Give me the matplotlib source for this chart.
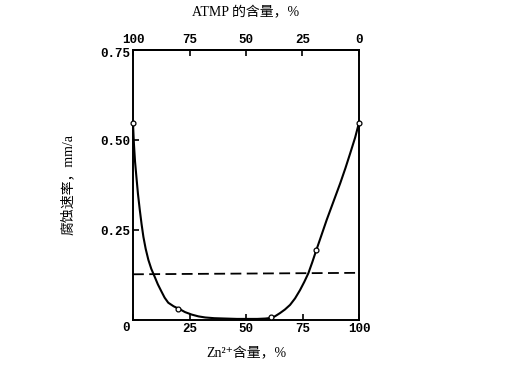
import matplotlib
matplotlib.use("Agg")
import matplotlib.pyplot as plt
import matplotlib.transforms as mtransforms

# Data
curve_x = [0, 0.4, 0.9, 1.5, 2.2, 3.0, 3.8, 4.6, 5.6, 6.8, 8.1, 9.6, 11.0, 12.6, 14.0, 15.6, 18.0, 20.7, 23.0, 26.0, 29.0, 32.0, 36.0, 41.0, 46.0, 50.5, 55.0, 58.5, 61.4,
           63.0, 65.0, 67.2, 69.5, 71.7, 73.9, 75.8, 77.6, 79.3, 81.0, 83.3, 85.7, 88.7, 91.7, 94.0, 96.1, 98.3, 100.0]
curve_y = [0.546, 0.49, 0.44, 0.398, 0.35, 0.306, 0.266, 0.231, 0.198, 0.167, 0.142, 0.12, 0.099, 0.079, 0.062, 0.048, 0.038, 0.030, 0.022, 0.015, 0.010, 0.007, 0.005, 0.004, 0.003, 0.003, 0.003, 0.004, 0.006,
           0.011, 0.019, 0.029, 0.042, 0.060, 0.083, 0.106, 0.130, 0.160, 0.192, 0.234, 0.278, 0.329, 0.38, 0.422, 0.463, 0.507, 0.548]
marker_x = [0, 20, 61, 81, 100]
marker_y = [0.546, 0.031, 0.008, 0.194, 0.548]
dash_x = [0, 100]
dash_y = [0.127, 0.131]

bottom_ticks = [0, 25, 50, 75, 100]
bottom_tick_labels = ["", "25", "50", "75", "100"]
top_tick_labels = ["100", "75", "50", "25", "0"]
left_ticks = [0, 0.25, 0.50, 0.75]
left_tick_labels = ["0", "0.25", "0.50", "0.75"]

CJK = ["Liberation Serif", "Noto Sans CJK SC", "DejaVu Sans"]
MONO = {"family": "Liberation Mono", "weight": "bold", "size": 9}

fig = plt.figure(figsize=(5.09, 3.69), dpi=100)
ax = fig.add_axes([133 / 509, 1 - 320 / 369, 226 / 509, 270 / 369])

ax.plot(curve_x, curve_y, color="black", lw=1.5, solid_capstyle="round", solid_joinstyle="round", clip_on=False)
ax.plot(marker_x, marker_y, "o", ms=3.5, mfc="white", mec="black", mew=0.9, clip_on=False, zorder=5)
ax.plot(dash_x, dash_y, color="black", lw=1.3, dashes=(6, 3))

ax.set_xlim(0, 100)
ax.set_ylim(0, 0.75)

ax.set_xticks(bottom_ticks)
ax.set_xticklabels(bottom_tick_labels, fontdict=MONO)
ax.set_yticks(left_ticks)
ax.set_yticklabels(left_tick_labels, fontdict=MONO)
ax.tick_params(axis="both", direction="in", length=4, width=1.2, pad=2)
ax.tick_params(axis="y", pad=2)
ylabels = ax.get_yticklabels()
ylabels[0].set_verticalalignment("top")
ylabels[0].set_transform(ylabels[0].get_transform() + mtransforms.ScaledTranslation(0, -2 / 100, fig.dpi_scale_trans))
ylabels[-1].set_verticalalignment("top")
ylabels[-1].set_transform(ylabels[-1].get_transform() + mtransforms.ScaledTranslation(0, 2 / 100, fig.dpi_scale_trans))

top = ax.secondary_xaxis("top")
top.set_xticks(bottom_ticks)
top.set_xticklabels(top_tick_labels, fontdict=MONO)
top.tick_params(direction="in", length=4, width=1.2, pad=3)

for s in ax.spines.values():
    s.set_linewidth(1.4)
top.spines["top"].set_linewidth(1.4)

cx = (133 + 113) / 509
fig.text(cx, 1 - 13 / 369, "ATMP 的含量，%", ha="center", va="center", family=CJK, fontsize=10)
fig.text(cx, 1 - 354 / 369, "Zn²⁺含量，%", ha="center", va="center", family=CJK, fontsize=10)
fig.text(68 / 509, 0.5, "腐蚀速率，mm/a", ha="center", va="center", rotation=90, family=CJK, fontsize=10)

fig.savefig("out.png", dpi=100)
